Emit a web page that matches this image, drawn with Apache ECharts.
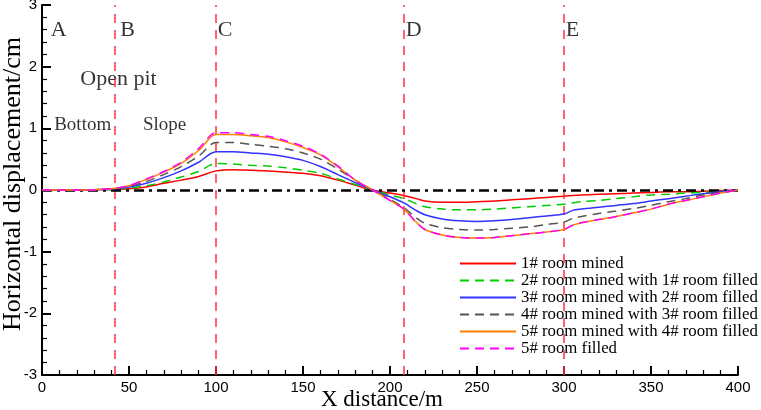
<!DOCTYPE html>
<html>
<head>
<meta charset="utf-8">
<script src="https://cdn.jsdelivr.net/npm/echarts@6/dist/echarts.min.js"></script>
<style>
html,body{margin:0;padding:0;background:#fff;}
#chart{width:761px;height:410px;}
</style>
</head>
<body>
<div id="chart"></div>
<script>
// x positions (m)
var xs = [0,10,20,30,40,50,60,70,80,90,100,110,120,130,140,150,160,170,180,190,200,208,215,220,230,240,250,260,270,280,290,300,305,310,320,330,340,350,360,370,380,390,400];

var names = ['1# room mined','2# room mined with 1# room filled','3# room mined with 2# room filled',
  '4# room mined with 3# room filled','5# room mined with 4# room filled','5# room filled'];

var red = [0,0,0,0.003,0.01,0.02,0.05,0.11,0.16,0.22,0.31,0.33,0.32,0.31,0.29,0.27,0.23,0.16,0.08,0,-0.05,-0.09,-0.14,-0.18,-0.2,-0.2,-0.19,-0.18,-0.16,-0.14,-0.12,-0.1,-0.09,-0.08,-0.07,-0.06,-0.05,-0.04,-0.03,-0.03,-0.02,-0.01,0];
var green = [0,0,0,0.004,0.01,0.03,0.07,0.13,0.21,0.3,0.43,0.42,0.4,0.39,0.36,0.32,0.27,0.18,0.09,0,-0.08,-0.14,-0.22,-0.27,-0.31,-0.32,-0.32,-0.31,-0.29,-0.27,-0.25,-0.23,-0.21,-0.19,-0.17,-0.14,-0.11,-0.08,-0.07,-0.05,-0.04,-0.02,0];
var blue = [0,0,0,0.005,0.015,0.05,0.11,0.2,0.31,0.45,0.62,0.62,0.6,0.58,0.54,0.48,0.38,0.25,0.12,0,-0.11,-0.21,-0.33,-0.4,-0.47,-0.5,-0.51,-0.5,-0.48,-0.45,-0.42,-0.39,-0.33,-0.31,-0.28,-0.25,-0.22,-0.18,-0.14,-0.1,-0.06,-0.03,0];
var gray = [0,0,0,0.005,0.02,0.06,0.14,0.25,0.38,0.55,0.77,0.77,0.74,0.71,0.67,0.6,0.5,0.34,0.16,0,-0.15,-0.29,-0.45,-0.54,-0.61,-0.64,-0.65,-0.64,-0.62,-0.6,-0.56,-0.52,-0.46,-0.43,-0.38,-0.34,-0.3,-0.25,-0.19,-0.14,-0.08,-0.04,0];
var orange = [0,0,0,0.005,0.02,0.07,0.17,0.29,0.43,0.64,0.9,0.9,0.88,0.85,0.78,0.69,0.57,0.38,0.16,0,-0.17,-0.31,-0.52,-0.64,-0.73,-0.77,-0.78,-0.77,-0.74,-0.71,-0.68,-0.64,-0.57,-0.53,-0.48,-0.43,-0.37,-0.31,-0.23,-0.17,-0.11,-0.05,0];
var magenta = [0,0,0,0.005,0.02,0.07,0.18,0.3,0.45,0.67,0.93,0.93,0.9,0.87,0.8,0.71,0.58,0.39,0.16,0,-0.17,-0.31,-0.52,-0.64,-0.73,-0.77,-0.78,-0.77,-0.74,-0.71,-0.68,-0.64,-0.57,-0.53,-0.48,-0.43,-0.37,-0.31,-0.23,-0.17,-0.11,-0.05,0];

var colors = ['#ff0000','#00cc00','#3333ff','#555555','#ff8000','#ff00ff'];
var dashes = ['solid',[9,6],'solid',[9,6],'solid',[9,6]];

// section boundaries (m)
var sectionX = [42,100,208,300];
// annotations [text, x, y, size]
var notes = [['A',5,2.59,22],['B',45,2.59,22],['C',101,2.59,22],['D',209,2.59,22],['E',301,2.59,22],
  ['Open pit',22,1.8,22],['Bottom',7,1.06,19],['Slope',58,1.06,19]];

var serif = 'Liberation Serif';
var sans = 'Liberation Sans';

function pairs(ys){
  var out=[];
  for(var i=0;i<xs.length;i++){ out.push([xs[i],ys[i]]); }
  return out;
}
var all=[red,green,blue,gray,orange,magenta];

var series=[];
for(var i=0;i<all.length;i++){
  series.push({
    name:names[i], type:'line', data:pairs(all[i]), symbol:'none', smooth:0.3,
    lineStyle:{color:colors[i],width:1.5,type:dashes[i]},
    itemStyle:{color:colors[i]}, z:3+i
  });
}
// boundary lines + zero line
series.push({
  name:'lines', type:'line', data:[], silent:true, z:20,
  markLine:{
    silent:true, symbol:'none', animation:false,
    label:{show:false},
    data:sectionX.map(function(v){return {xAxis:v,lineStyle:{color:'#ff3333',width:1.5,type:[9,7]}};})
      .concat([{yAxis:0,lineStyle:{color:'#000',width:2.5,type:[10,5,3,5]}}])
  }
});
series.push({
  name:'notes', type:'scatter', symbolSize:0, silent:true,
  data:notes.map(function(n){
    return {value:[n[1],n[2]],name:n[0],label:{fontSize:n[3]}};
  }),
  label:{show:true,position:'right',distance:0,formatter:'{b}',color:'#000',
    fontFamily:serif,fontSize:20}
});

var myChart = echarts.init(document.getElementById('chart'));
var option = {
  animation:false,
  grid:{left:42,right:23,top:5,bottom:35,outerBoundsMode:'none',containLabel:false},
  legend:{
    data:names, orient:'vertical', left:454, top:250,
    itemWidth:56, itemHeight:10, itemGap:0,
    itemStyle:{color:'rgba(0,0,0,0)',borderWidth:0,opacity:0},
    textStyle:{fontFamily:serif,fontSize:16.8,color:'#000',lineHeight:17}
  },
  xAxis:{
    type:'value', min:0, max:400, interval:50,
    name:'X distance/m', nameLocation:'middle', nameGap:13, nameMoveOverlap:false,
    nameTextStyle:{fontFamily:serif,fontSize:23,color:'#000',padding:[0,16,0,0]},
    axisLine:{onZero:false,lineStyle:{color:'#000',width:2}},
    axisTick:{inside:true,length:9,lineStyle:{color:'#000',width:2}},
    minorTick:{show:true,splitNumber:5,length:5,lineStyle:{color:'#000',width:1.2}},
    axisLabel:{fontFamily:sans,fontSize:15,color:'#000',margin:5},
    splitLine:{show:false}
  },
  yAxis:{
    type:'value', min:-3, max:3, interval:1,
    name:'Horizontal displacement/cm', nameLocation:'middle', nameGap:16, nameMoveOverlap:false,
    nameTextStyle:{fontFamily:serif,fontSize:26,color:'#000',padding:[0,0,0,12]},
    axisLine:{onZero:false,lineStyle:{color:'#000',width:2}},
    axisTick:{inside:true,length:9,lineStyle:{color:'#000',width:2}},
    minorTick:{show:true,splitNumber:5,length:5,lineStyle:{color:'#000',width:1.2}},
    axisLabel:{fontFamily:sans,fontSize:15,color:'#000',margin:5},
    splitLine:{show:false}
  },
  series:series
};
myChart.setOption(option);
</script>
</body>
</html>
